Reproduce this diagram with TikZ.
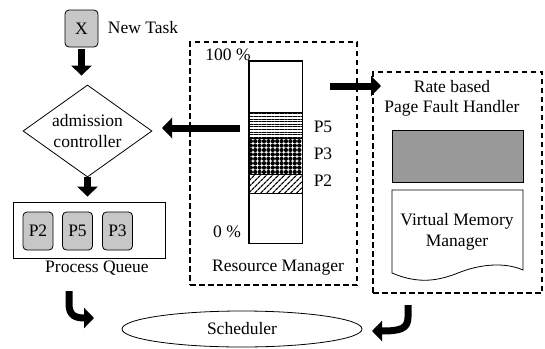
\documentclass[tikz,border=0pt]{standalone}
\usepackage{fontspec}
\setmainfont{Liberation Serif}
\usetikzlibrary{arrows.meta,shapes.geometric,patterns.meta}
\begin{document}
\begin{tikzpicture}[x=1pt,y=-1pt,
  every node/.style={font=\fontsize{17.5}{21}\selectfont},
  txt/.style={inner sep=0pt},
  fat/.style={line width=7pt,-{Triangle[length=10pt,width=20pt]}},
  dbox/.style={draw,line width=1.4pt,dash pattern=on 5.5pt off 3.5pt,minimum width=#1},
  pbox/.style={draw,rounded corners=4pt,fill=black!22,line width=0.8pt,minimum width=30pt,minimum height=38pt,inner sep=0pt},
]
\useasboundingbox (0,0) rectangle (545,348);

% new task
\node[pbox,minimum width=33pt,minimum height=37pt] (x) at (81.5,28.5) {X};
\node[txt] (nt) at (143,28) {New Task};

% admission controller
\node[diamond,draw,line width=0.8pt,aspect=1.4,minimum width=129pt,minimum height=92pt,inner sep=0pt,align=center] (dia) at (87.5,131) {admission\\controller};

% process queue
\node[draw,line width=0.8pt,minimum width=152pt,minimum height=56pt,inner sep=0pt] (q) at (89,230) {};
\node[pbox] (p2) at (38,231) {P2};
\node[pbox] (p5) at (77.5,231) {P5};
\node[pbox] (p3) at (117.5,231) {P3};
\node[txt] (pq) at (97,268) {Process Queue};

% resource manager
\node[dbox=167pt,minimum height=243pt] (rm) at (273.5,163.5) {};
\node[draw,line width=0.8pt,minimum width=53pt,minimum height=182pt,inner sep=0pt] (bar) at (275.5,152) {};
\fill[pattern={Lines[angle=0,distance=2.6pt,line width=1pt]}] (249,112) rectangle (302,138);
\fill[pattern={Dots[distance=4.4pt,radius=2.1pt]}] (249,138) rectangle (302,174);
\fill[pattern={Lines[angle=45,distance=4pt,line width=1.3pt]}] (249,174) rectangle (302,193);
\draw[line width=0.8pt] (249,112) -- (302,112) (249,138) -- (302,138) (249,174) -- (302,174) (249,193) -- (302,193);
\draw[line width=0.8pt] (bar.north west) rectangle (bar.south east);
\node[txt] (l100) at (228,55) {100 \%};
\node[txt] (l0) at (227,232) {0 \%};
\node[txt] (lp5) at (323,127) {P5};
\node[txt] (lp3) at (323,154) {P3};
\node[txt] (lp2) at (323,181) {P2};
\node[txt] (rmt) at (278,268) {Resource Manager};

% page fault handler
\node[dbox=169pt,minimum height=221pt] (pfh) at (457.5,182.5) {};
\node[txt] (rb) at (452,87) {Rate based};
\node[txt] (pf) at (452,108) {Page Fault Handler};
\node[draw,line width=0.8pt,fill=black!40,minimum width=131pt,minimum height=52pt,inner sep=0pt] (gr) at (457.5,156) {};
\draw[line width=0.8pt] (392,190) -- (523,190) -- (523,270)
  .. controls (505,262) and (480,264) .. (458,273)
  .. controls (440,280) and (420,285) .. (392,273) -- cycle;
\node[txt,align=center] (vm) at (457,232) {Virtual Memory\\Manager};

% scheduler
\node[ellipse,draw,line width=0.8pt,minimum width=240pt,minimum height=36pt,inner sep=0pt] (sch) at (242,329) {Scheduler};

% arrows
\draw[fat,shorten <=2pt,shorten >=9pt] (x.south) -- (x.south |- dia.north);
\draw[fat,shorten >=5pt] (dia.south) -- (dia.south |- q.north);
\coordinate (r1) at (240,128);
\coordinate (r2) at (162,128);
\draw[fat] (r1) -- (r2);
\coordinate (a1) at (330,86);
\coordinate (a2) at (381,86);
\draw[fat] (a1) -- (a2);
\coordinate (h1) at (69,291);
\coordinate (h2) at (94,318);
\draw[fat] (h1) -- (69,304) .. controls (69,316) and (76,318) .. (h2);
\coordinate (k1) at (408,305);
\coordinate (k2) at (372,331);
\draw[fat] (k1) -- (408,317) .. controls (408,329) and (400,331) .. (k2);
\end{tikzpicture}
\end{document}
